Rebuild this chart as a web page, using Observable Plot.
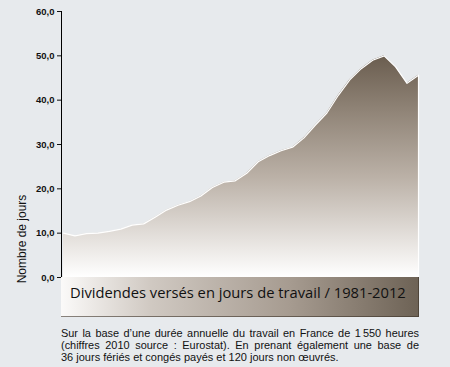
<!DOCTYPE html>
<html><head><meta charset="utf-8">
<script src="https://cdn.jsdelivr.net/npm/d3@7"></script>
<script src="https://cdn.jsdelivr.net/npm/@observablehq/plot@0.6"></script>
<style>
html,body{margin:0;padding:0;background:#e7eaed;}
#wrap{position:relative;width:450px;height:367px;overflow:hidden;background:#e7eaed;}
#chart{position:absolute;left:0;top:0;}
#ylabel{position:absolute;left:22px;top:239px;transform:translate(-50%,-50%) rotate(-90deg);font:12px "Liberation Sans",Arial,sans-serif;color:#111;white-space:nowrap;}
#titlebox{position:absolute;left:61px;top:277px;width:358px;height:40px;background:linear-gradient(to right,#fbfaf9 0%,#d0c9c2 25%,#a69b90 64%,#6d6255 100%);box-shadow:inset -1px -1px 0 rgba(60,50,40,.6);}
#title{position:absolute;left:9px;top:0;line-height:30px;font-family:"Open Sans",sans-serif;font-size:17px;color:#111;white-space:nowrap;}
#caption{position:absolute;left:61px;top:327px;width:358px;font:11px "Liberation Sans",Arial,sans-serif;color:#111;line-height:12px;}
.ln{text-align:justify;text-align-last:justify;}
.ln.last{text-align-last:left;}
</style>
</head><body>
<div id="wrap">
  <div id="chart"></div>
  <div id="ylabel">Nombre de jours</div>
  <div id="titlebox"><span id="title">Dividendes versés en jours de travail / 1981-2012</span></div>
  <div id="caption">
    <div class="ln">Sur la base d’une durée annuelle du travail en France de 1&#8239;550 heures</div>
    <div class="ln">(chiffres 2010 source : Eurostat). En prenant également une base de</div>
    <div class="ln last">36 jours fériés et congés payés et 120 jours non œuvrés.</div>
  </div>
</div>
<script>
const years = [1981,1982,1983,1984,1985,1986,1987,1988,1989,1990,1991,1992,1993,1994,1995,1996,
               1997,1998,1999,2000,2001,2002,2003,2004,2005,2006,2007,2008,2009,2010,2011,2012];
const days  = [10.0,9.4,9.9,10.0,10.4,10.9,11.8,12.1,13.6,15.2,16.3,17.1,18.4,20.3,21.5,21.8,
               23.5,26.1,27.5,28.6,29.4,31.5,34.4,37.1,41.1,44.6,47.1,49.0,50.0,47.5,43.8,45.6];
const yTicks = [0,10,20,30,40,50,60];
const yTickLabels = ["0,0","10,0","20,0","30,0","40,0","50,0","60,0"];

const data = years.map((year,i)=>({year, days: days[i]}));

const plot = Plot.plot({
  width:450, height:290, marginTop:11, marginBottom:13, marginLeft:61, marginRight:31,
  style:{background:"transparent", fontFamily:"'Liberation Sans', Arial, sans-serif", fontSize:"9.5px", fontWeight:"bold", color:"#111"},
  x:{domain:[1981,2012], range:[63,418], axis:null},
  y:{domain:[0,60], ticks:yTicks, tickFormat:d => yTickLabels[yTicks.indexOf(d)], tickSize:4, tickPadding:3, label:null},
  marks:[
    Plot.areaY(data,{x:"year", y:"days", fill:"url(#areaGrad)"}),
    Plot.lineY(data,{x:"year", y:"days", stroke:"white", strokeWidth:1.2}),
    Plot.ruleX(data.slice(-1),{x:"year", y1:0, y2:"days", stroke:"white", strokeWidth:1.2}),
    Plot.frame({anchor:"left", stroke:"#000"})
  ]
});
document.getElementById("chart").appendChild(plot);

const ys = plot.scale("y");
const svg = d3.select(plot.tagName.toLowerCase()==="svg" ? plot : plot.querySelector("svg"));
const grad = svg.insert("defs",":first-child").append("linearGradient")
  .attr("id","areaGrad").attr("gradientUnits","userSpaceOnUse")
  .attr("x1",0).attr("x2",0).attr("y1",ys.apply(0)).attr("y2",ys.apply(50));
[[0,"#ffffff"],[0.08,"#f3f1ef"],[0.45,"#bbb1a7"],[0.75,"#908477"],[1,"#6a5d4f"]].forEach(([o,c])=>{
  grad.append("stop").attr("offset",o).attr("stop-color",c);
});

// fit title to its width
const t = document.getElementById("title");
const w = t.getBoundingClientRect().width;
t.style.fontSize = (17*336/w)+"px";
// keep each caption line on one line
document.querySelectorAll(".ln").forEach(el=>{
  const s = document.createElement("span"); s.style.whiteSpace="nowrap"; s.innerHTML = el.innerHTML;
  el.innerHTML=""; el.appendChild(s);
  const ww = s.getBoundingClientRect().width;
  if (ww > 357) el.style.fontSize = (11*356/ww)+"px";
  el.innerHTML = s.innerHTML;
});
</script>
</body></html>
